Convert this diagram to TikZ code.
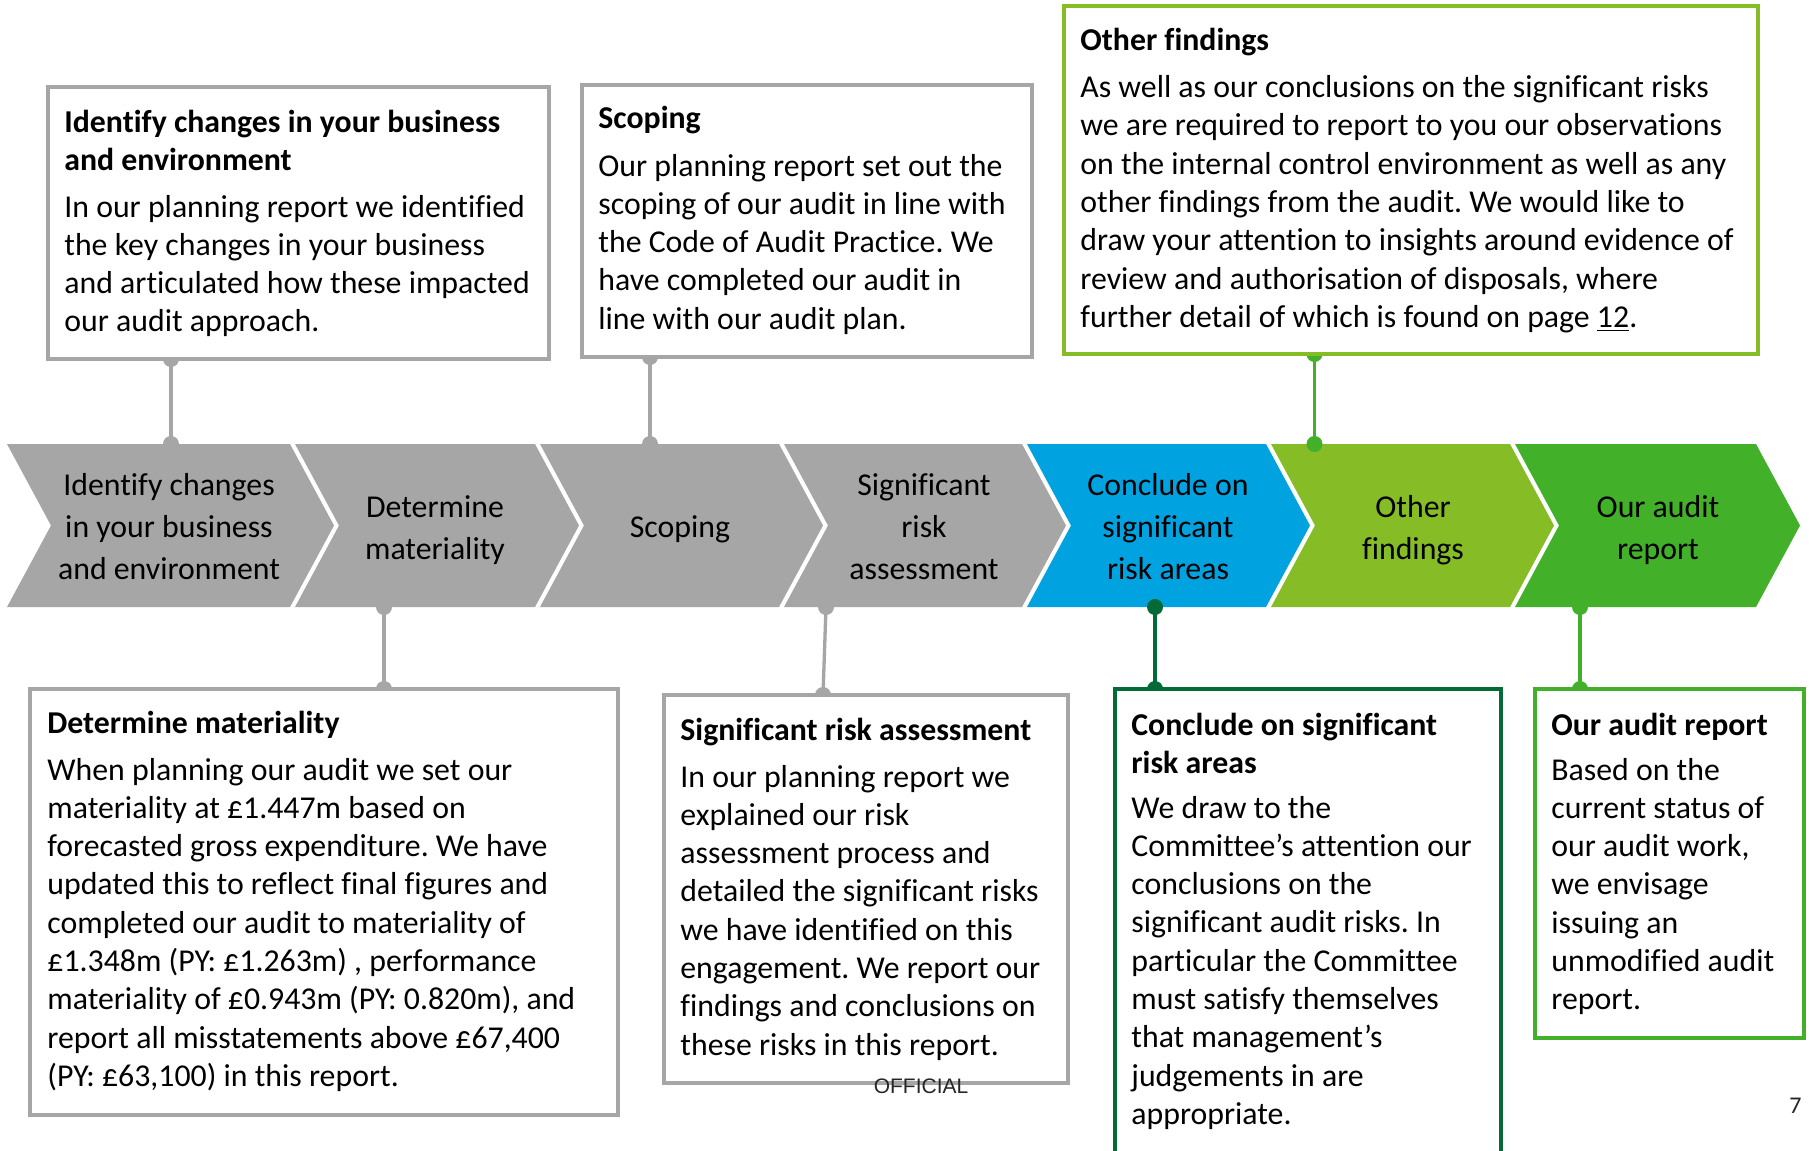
\documentclass[tikz,border=0pt]{standalone}
\usepackage{fontspec}
\setmainfont{Carlito}[Ligatures=NoCommon]
\newfontfamily\officialfont{Liberation Sans}
\usetikzlibrary{calc}
\frenchspacing

\definecolor{stepgrey}{HTML}{A6A6A6}
\definecolor{stepblue}{HTML}{00A3E0}
\definecolor{steplime}{HTML}{86BC25}
\definecolor{stepgreen}{HTML}{43B02A}
\definecolor{stepdark}{HTML}{046A38}
\definecolor{footgrey}{HTML}{262626}

\newcommand{\bodysize}{\fontsize{15.9pt}{19.15pt}\selectfont}
\newcommand{\chevsize}{\fontsize{15.9pt}{21.2pt}\selectfont}
\newcommand{\textlines}[1]{\parbox[t]{360pt}{\raggedright #1}}
\newcommand{\steplines}[1]{\parbox[t]{130pt}{\centering #1}}

\pgfdeclarelayer{back}
\pgfdeclarelayer{mid}
\pgfsetlayers{back,mid,main}

\tikzset{
  panel/.style={draw, line width=2pt, fill=white, inner sep=0pt, outer sep=0pt, anchor=north west},
  link/.style={line width=1.65pt},
  heading/.style={anchor=base west, inner sep=0pt, font=\bodysize\bfseries},
  bodytext/.style={anchor=base west, inner sep=0pt, font=\bodysize},
  steplabel/.style={anchor=base, inner sep=0pt, font=\chevsize},
}

\begin{document}
\begin{tikzpicture}[x=0.5pt, y=-0.5pt]
\useasboundingbox (0,0) rectangle (1810,1151);

% process band of chevrons
\begin{pgfonlayer}{back}
  \fill[white] (0,0) rectangle (1810,1151);
  \foreach \L/\R/\col/\nm in {7/290/stepgrey/c0, 295/535/stepgrey/c1, 540/779/stepgrey/c2,
      784/1022/stepgrey/c3, 1027/1266/stepblue/c4, 1271/1510/steplime/c5, 1515/1756/stepgreen/c6}{
    \fill[\col] (\L,444) -- (\R,444) -- ({\R+44},525.5) -- (\R,607) -- (\L,607) -- ({\L+44},525.5) -- cycle;
    \coordinate (\nm-top) at (\L,444);
    \coordinate (\nm-bot) at (\L,607);
  }
\end{pgfonlayer}

\node[steplabel] (lbl0) at (169,495) {\steplines{Identify changes\\in your business\\and environment}};
\node[steplabel] (lbl1) at (435,517) {\steplines{Determine\\materiality}};
\node[steplabel] (lbl2) at (680,537) {\steplines{Scoping}};
\node[steplabel] (lbl3) at (924,495) {\steplines{Significant\\risk\\assessment}};
\node[steplabel] (lbl4) at (1168,495) {\steplines{Conclude on\\significant\\risk areas}};
\node[steplabel] (lbl5) at (1413,517) {\steplines{Other\\findings}};
\node[steplabel] (lbl6) at (1658,517) {\steplines{Our audit\\report}};

% detail panels
\node[panel, draw=stepgrey, minimum width=250.5pt, minimum height=136pt] (boxA) at (48,87) {};
\node[panel, draw=stepgrey, minimum width=225pt, minimum height=136pt] (boxB) at (582,85) {};
\node[panel, draw=steplime, minimum width=347.25pt, minimum height=174pt] (boxC) at (1063.5,6) {};
\node[panel, draw=stepgrey, minimum width=294pt, minimum height=213pt] (boxD) at (30,689) {};
\node[panel, draw=stepgrey, minimum width=202pt, minimum height=194pt] (boxE) at (664,695) {};
\node[panel, draw=stepdark, minimum width=193pt, minimum height=240pt] (boxF) at (1115,689) {};
\node[panel, draw=stepgreen, minimum width=134.5pt, minimum height=174.5pt] (boxG) at (1535,689) {};

% connectors with round ends
\begin{pgfonlayer}{mid}
  \coordinate (pa) at ($(boxA.south west)+(123,0)$);
  \coordinate (pb) at ($(boxB.south west)+(68,0)$);
  \coordinate (pc) at ($(boxC.south west)+(251,0)$);
  \coordinate (pd) at ($(boxD.north west)+(354,0)$);
  \coordinate (pe) at ($(boxE.north west)+(159,0)$);
  \coordinate (pf) at ($(boxF.north west)+(40,0)$);
  \coordinate (pg) at ($(boxG.north west)+(45,0)$);
  \coordinate (qa) at (pa |- c0-top);
  \coordinate (qb) at (pb |- c2-top);
  \coordinate (qc) at (pc |- c5-top);
  \coordinate (qd) at (pd |- c1-bot);
  \coordinate (qe) at ($(c3-bot)+(42,0)$);
  \coordinate (qf) at (pf |- c4-bot);
  \coordinate (qg) at (pg |- c6-bot);
  \foreach \p/\q/\col in {pa/qa/stepgrey, pb/qb/stepgrey, pc/qc/stepgreen, pd/qd/stepgrey,
      pe/qe/stepgrey, pf/qf/stepdark, pg/qg/stepgreen}{
    \draw[link, \col] (\p) -- (\q);
    \fill[\col] (\p) circle[radius=4pt];
    \fill[\col] (\q) circle[radius=4pt];
  }
\end{pgfonlayer}

% panel texts
\node[heading] (headA) at (64,132) {\textlines{Identify changes in your business\\and environment}};
\node[bodytext] (textA) at (64,217) {\textlines{In our planning report we identified\\the key changes in your business\\and articulated how these impacted\\our audit approach.}};

\node[heading] (headB) at (598,128) {\textlines{Scoping}};
\node[bodytext] (textB) at (598,176) {\textlines{Our planning report set out the\\scoping of our audit in line with\\the Code of Audit Practice. We\\have completed our audit in\\line with our audit plan.}};

\node[heading] (headC) at (1080,50) {\textlines{Other findings}};
\node[bodytext] (textC) at (1080,97.7) {\textlines{As well as our conclusions on the significant risks\\we are required to report to you our observations\\on the internal control environment as well as any\\other findings from the audit. We would like to\\draw your attention to insights around evidence of\\review and authorisation of disposals, where\\further detail of which is found on page \underline{12}.}};

\node[heading] (headD) at (47,733) {\textlines{Determine materiality}};
\node[bodytext] (textD) at (47,780) {\textlines{When planning our audit we set our\\materiality at £1.447m based on\\forecasted gross expenditure. We have\\updated this to reflect final figures and\\completed our audit to materiality of\\£1.348m (PY: £1.263m) , performance\\materiality of £0.943m (PY: 0.820m), and\\report all misstatements above £67,400\\(PY: £63,100) in this report.}};

\node[heading] (headE) at (680,740) {\textlines{Significant risk assessment}};
\node[bodytext] (textE) at (680,787) {\textlines{In our planning report we\\explained our risk\\assessment process and\\detailed the significant risks\\we have identified on this\\engagement. We report our\\findings and conclusions on\\these risks in this report.}};

\node[heading] (headF) at (1131,735) {\textlines{Conclude on significant\\risk areas}};
\node[bodytext] (textF) at (1131,818) {\textlines{We draw to the\\Committee’s attention our\\conclusions on the\\significant audit risks. In\\particular the Committee\\must satisfy themselves\\that management’s\\judgements in are\\appropriate.}};

\node[heading] (headG) at (1551,735) {\textlines{Our audit report}};
\node[bodytext] (textG) at (1551,780) {\textlines{Based on the\\current status of\\our audit work,\\we envisage\\issuing an\\unmodified audit\\report.}};

% page footer
\node[anchor=base, inner sep=0pt, text=footgrey, font=\officialfont\fontsize{10.5pt}{12pt}\selectfont] (official) at (921,1093) {OFFICIAL};
\node[anchor=base east, inner sep=0pt, text=footgrey, font=\fontsize{12pt}{14pt}\selectfont] (pagenum) at (1802,1113) {7};
\end{tikzpicture}
\end{document}
